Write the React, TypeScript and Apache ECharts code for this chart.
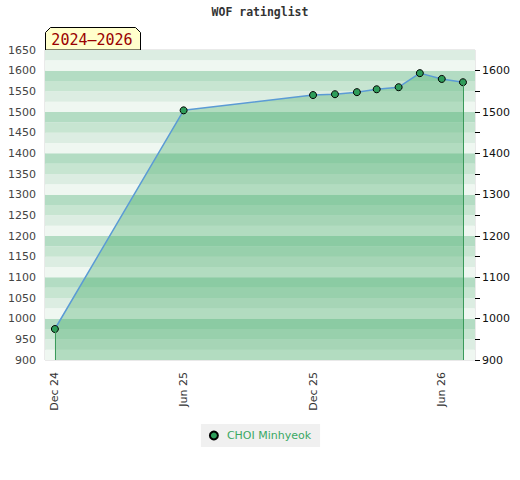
import React, { useEffect, useRef } from "react";
import * as echarts from "echarts";

const titleText = "WOF ratinglist";
const periodLabel = "2024–2026";
const seriesName = "CHOI Minhyeok";

const dates = [
  "2024-12-01",
  "2025-06-01",
  "2025-12-01",
  "2026-01-01",
  "2026-02-01",
  "2026-03-01",
  "2026-04-01",
  "2026-05-01",
  "2026-06-01",
  "2026-07-01",
];
const ratings = [975, 1504, 1541, 1543, 1548, 1555, 1560, 1594, 1580, 1572];

const xTickDates = ["2024-12-01", "2025-06-01", "2025-12-01", "2026-06-01"];
const xTickLabels = ["Dec 24", "Jun 25", "Dec 25", "Jun 26"];
const xMinDate = "2024-11-17";
const xMaxDate = "2026-07-18";

const yMin = 900;
const yMax = 1650;
const leftLabels = [900, 950, 1000, 1050, 1100, 1150, 1200, 1250, 1300, 1350, 1400, 1450, 1500, 1550, 1600, 1650];
const rightLabels = [900, 1000, 1100, 1200, 1300, 1400, 1500, 1600];
const rightTicks = [900, 950, 1000, 1050, 1100, 1150, 1200, 1250, 1300, 1350, 1400, 1450, 1500, 1550, 1600];
const stripeColors = ["#eff7f1", "#dcede2", "#c7e5d1", "#b3dcc3"];

function ts(s: string): number {
  const [y, m, d] = s.split("-").map(Number);
  return Date.UTC(y, m - 1, d);
}

export default function App() {
  const ref = useRef<HTMLDivElement>(null);
  useEffect(() => {
    if (!ref.current) return;
    const chart = echarts.init(ref.current, undefined, { renderer: "svg" });
    const pts = dates.map((d, i) => [ts(d), ratings[i]]);
    const tickTs = xTickDates.map(ts);
    const first = pts[0];
    const last = pts[pts.length - 1];
    chart.setOption({
      animation: false,
      backgroundColor: "#ffffff",
      title: {
        text: titleText,
        left: "center",
        top: 6,
        padding: 0,
        textStyle: {
          fontFamily: "DejaVu Sans Mono",
          fontWeight: "bold",
          fontSize: 11.5,
          color: "#333",
        },
      },
      grid: {
        left: 45,
        right: 45,
        top: 50,
        bottom: 120,
        show: true,
        borderColor: "#d4d4d4",
        borderWidth: 1,
        backgroundColor: "transparent",
      },
      legend: {
        data: [seriesName],
        left: "center",
        top: 424,
        icon: "circle",
        itemWidth: 8,
        itemHeight: 8,
        backgroundColor: "#f0f0f0",
        padding: [5, 9, 5, 8],
        textStyle: {
          color: "#3aa864",
          fontSize: 11,
          fontFamily: "DejaVu Sans",
          padding: [0, 0, 0, 4],
          lineHeight: 13,
        },
      },
      xAxis: {
        type: "value",
        min: ts(xMinDate),
        max: ts(xMaxDate),
        axisLine: { show: false },
        axisTick: { show: false },
        splitLine: { show: false },
        axisLabel: {
          customValues: tickTs,
          rotate: 90,
          margin: 12,
          fontSize: 11,
          fontFamily: "DejaVu Sans",
          color: "#333",
          formatter: (v: number) => {
            const i = tickTs.indexOf(v);
            return i >= 0 ? xTickLabels[i] : "";
          },
        },
      },
      yAxis: [
        {
          type: "value",
          position: "left",
          min: yMin,
          max: yMax,
          interval: 25,
          axisLine: { show: false },
          axisTick: { show: false },
          splitLine: { show: false },
          splitArea: { show: true, areaStyle: { color: stripeColors } },
          axisLabel: {
            customValues: leftLabels,
            margin: 9,
            fontSize: 11,
            fontFamily: "DejaVu Sans",
            color: "#444",
            formatter: (v: number) => String(v),
          },
        },
        {
          type: "value",
          position: "right",
          min: yMin,
          max: yMax,
          interval: 50,
          axisLine: { show: false },
          splitLine: { show: false },
          axisTick: {
            show: true,
            customValues: rightTicks,
            length: 5,
            lineStyle: { color: "#000", width: 1 },
          },
          axisLabel: {
            customValues: rightLabels,
            margin: 7,
            fontSize: 11,
            fontFamily: "DejaVu Sans",
            color: "#111",
            formatter: (v: number) => String(v),
          },
        },
      ],
      series: [
        {
          name: seriesName,
          type: "line",
          yAxisIndex: 0,
          data: pts,
          symbol: "circle",
          symbolSize: 7,
          lineStyle: { color: "#5b9bd5", width: 1.5 },
          itemStyle: { color: "#2e9d5a", borderColor: "#000", borderWidth: 1 },
          areaStyle: { color: "rgba(71,174,108,0.52)", origin: "start" },
          markLine: {
            silent: true,
            symbol: "none",
            label: { show: false },
            lineStyle: { color: "#3a9a5a", width: 1, type: "solid" },
            data: [
              [{ coord: [first[0], first[1]] }, { coord: [first[0], yMin] }],
              [{ coord: [last[0], last[1]] }, { coord: [last[0], yMin] }],
            ],
          },
          z: 3,
        },
      ],
      graphic: [
        {
          type: "group",
          z: 100,
          children: [
            {
              type: "polygon",
              shape: {
                points: [
                  [45.5, 50],
                  [45.5, 32.5],
                  [50.5, 27.5],
                  [135.5, 27.5],
                  [140.5, 32.5],
                  [140.5, 50],
                ],
              },
              style: { fill: "#ffffcc", stroke: "#000", lineWidth: 1 },
            },
            {
              type: "text",
              x: 92,
              y: 40,
              style: {
                text: periodLabel,
                align: "center",
                verticalAlign: "middle",
                font: "15px 'DejaVu Sans Mono'",
                fill: "#990000",
              },
            },
          ],
        },
      ],
    });
    return () => chart.dispose();
  }, []);
  return (
    <div
      ref={ref}
      style={{ position: "fixed", left: 0, top: 0, width: 520, height: 480 }}
    />
  );
}
